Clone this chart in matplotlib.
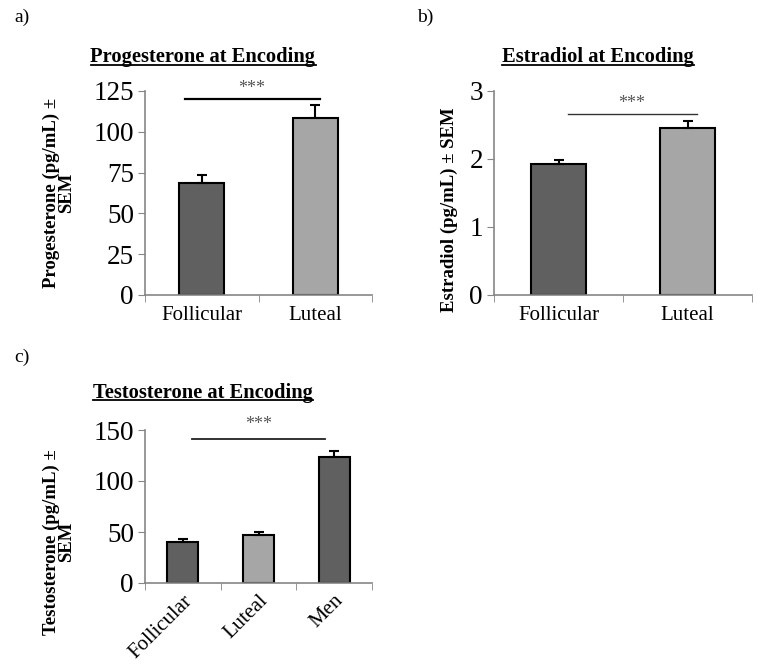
import numpy as np
import matplotlib
matplotlib.use('Agg')
import matplotlib.pyplot as plt
from matplotlib.lines import Line2D

plt.rcParams.update({
    'font.family': ['Liberation Serif', 'DejaVu Serif'],
    'font.size': 14,
    'axes.spines.top': False, 'axes.spines.right': False,
    'figure.facecolor': 'white', 'axes.facecolor': 'white',
})
DARK, LIGHT, SPINE = '#606060', '#a6a6a6', '#868686'

# panel a: progesterone
prog_groups = ['Follicular', 'Luteal']
prog_mean = [68.5, 108.5]
prog_sem = [5.0, 8.0]
# panel b: estradiol
estr_groups = ['Follicular', 'Luteal']
estr_mean = [1.92, 2.46]
estr_sem = [0.07, 0.10]
# panel c: testosterone
test_groups = ['Follicular', 'Luteal', 'Men']
test_mean = [40.0, 47.0, 124.0]
test_sem = [3.0, 3.0, 5.0]


def bar_panel(ax, groups, means, sems, colors, ymax, step, width):
    x = np.arange(len(groups))
    ax.bar(x, means, width=width, color=colors, edgecolor='black', linewidth=1.5, zorder=2)
    ax.errorbar(x, means, yerr=[np.zeros(len(sems)), sems], fmt='none', ecolor='black',
                elinewidth=1.5, capsize=3.5, capthick=1.5, zorder=3)
    ax.set_xlim(-0.5, len(groups) - 0.5)
    ax.set_ylim(0, ymax)
    ax.set_yticks(np.arange(0, ymax + step / 2, step))
    # category labels at centres, tick marks at category boundaries
    ax.set_xticks(x)
    ax.set_xticklabels(groups)
    ax.set_xticks(np.arange(-0.5, len(groups)), minor=True)
    ax.tick_params(axis='x', which='major', length=0, pad=8, labelsize=15)
    ax.tick_params(axis='x', which='minor', length=5, color=SPINE, direction='out')
    ax.tick_params(axis='y', length=5, color=SPINE, labelsize=19.5, pad=3)
    for s in ('left', 'bottom'):
        ax.spines[s].set_color(SPINE)
        ax.spines[s].set_linewidth(1.2)


def sig(ax, x0, x1, y, xs, ys, lw, color='black'):
    ax.plot([x0, x1], [y, y], color=color, lw=lw, clip_on=False, zorder=4)
    ax.text(xs, ys, '***', ha='center', va='center', fontsize=13, color='#555555',
            clip_on=False)


fig = plt.figure(figsize=(7.58, 6.69), dpi=100)
W, H = 758, 669


def axes_px(l, t, r, b):
    return fig.add_axes([l / W, 1 - b / H, (r - l) / W, (b - t) / H])


axa = axes_px(145, 91, 372, 295)
bar_panel(axa, prog_groups, prog_mean, prog_sem, [DARK, LIGHT], 125, 25, 0.4)
sig(axa, -0.15, 1.04, 120, 0.44, 126.5, 1.6)
axa.set_ylabel('Progesterone (pg/mL) ±\nSEM', fontweight='bold', fontsize=13.5,
               linespacing=0.85)
axa.yaxis.set_label_coords(-0.31, 0.5)

axb = axes_px(494, 91, 752, 295)
bar_panel(axb, estr_groups, estr_mean, estr_sem, [DARK, LIGHT], 3, 1, 0.43)
sig(axb, 0.07, 1.07, 2.66, 0.57, 2.81, 1.0, color='#333333')
axb.set_ylabel('Estradiol (pg/mL) ± SEM', fontweight='bold', fontsize=13.5)
axb.yaxis.set_label_coords(-0.14, 0.42)

axc = axes_px(145, 430, 372, 583)
bar_panel(axc, test_groups, test_mean, test_sem, [DARK, LIGHT, DARK], 150, 50, 0.41)
sig(axc, 0.12, 1.88, 141, 1.0, 155, 1.3, color='#222222')
axc.set_ylabel('Testosterone (pg/mL) ±\nSEM', fontweight='bold', fontsize=13.5,
               linespacing=0.85)
axc.yaxis.set_label_coords(-0.31, 0.27)
for lab in axc.get_xticklabels():
    lab.set_rotation(45)
    lab.set_ha('right')
    lab.set_rotation_mode('anchor')
axc.tick_params(axis='x', which='major', pad=6)

# panel letters
for txt, x, y in (('a)', 14, 22), ('b)', 417, 22), ('c)', 14, 362)):
    fig.text(x / W, 1 - y / H, txt, fontsize=14, va='baseline')

# underlined bold titles
titles = [('Progesterone at Encoding', 203, 62), ('Estradiol at Encoding', 598, 62),
          ('Testosterone at Encoding', 203, 398)]
fig.canvas.draw()
r = fig.canvas.get_renderer()
for txt, cx, by in titles:
    t = fig.text(cx / W, 1 - by / H, txt, fontsize=14.8, fontweight='bold',
                 ha='center', va='baseline')
    bb = t.get_window_extent(r)
    yl = 1 - (by + 2.5) / H
    fig.add_artist(Line2D([bb.x0 / W, bb.x1 / W], [yl, yl], color='black', lw=1.3))

fig.savefig('out.png', dpi=100)
